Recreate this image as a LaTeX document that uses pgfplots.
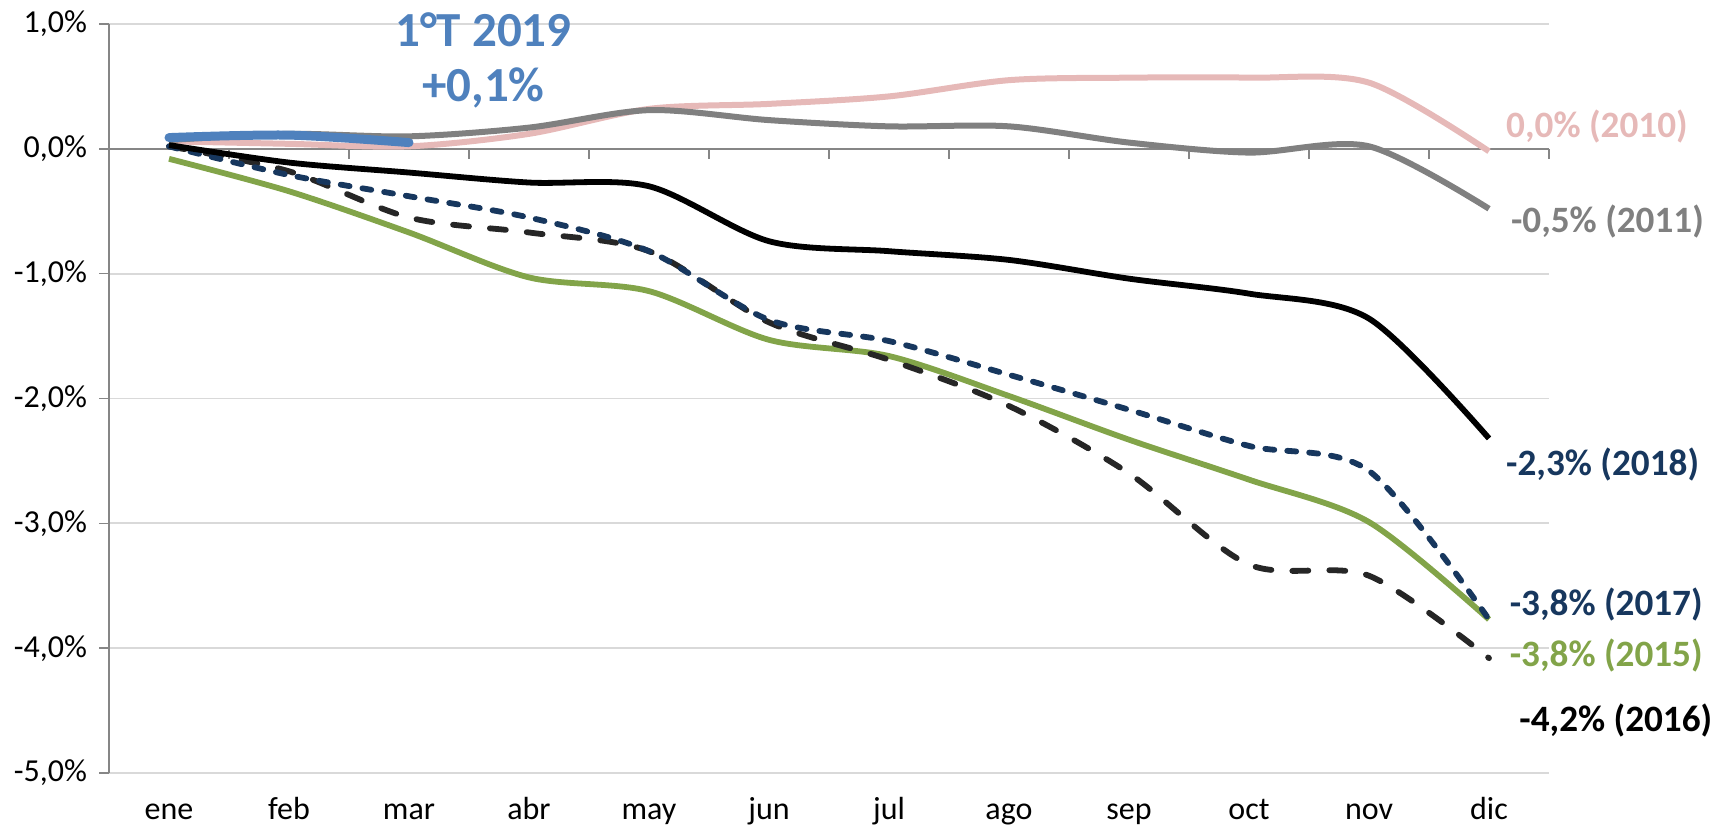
\documentclass[border=0pt]{standalone}
\usepackage{pgfplots}
\pgfplotsset{compat=1.18}
\usepackage{fontspec}
\setmainfont{Carlito}

\definecolor{c2010}{HTML}{E6B9B8}
\definecolor{c2011}{HTML}{808080}
\definecolor{c2019}{HTML}{4F81BD}
\definecolor{cnavy}{HTML}{17375E}
\definecolor{cgreen}{HTML}{82A449}
\definecolor{c2016}{HTML}{262626}
\definecolor{cgrid}{HTML}{D9D9D9}
\definecolor{caxis}{HTML}{868686}

\begin{document}
\begin{tikzpicture}
\begin{axis}[
    scale only axis,
    width=720pt, height=374.5pt,
    xmin=-0.5, xmax=11.5,
    ymin=-5, ymax=1,
    axis y line*=left, axis x line*=bottom,
    x axis line style={draw=none},
    y axis line style={caxis, line width=0.75pt},
    xtick={0,...,11},
    xticklabels={ene,feb,mar,abr,may,jun,jul,ago,sep,oct,nov,dic},
    major x tick style={draw=none},
    ytick={-5,-4,-3,-2,-1,0,1},
    yticklabels={{-5,0\%},{-4,0\%},{-3,0\%},{-2,0\%},{-1,0\%},{0,0\%},{1,0\%}},
    ytick style={caxis, line width=0.75pt},
    tick align=outside, major tick length=5pt,
    ymajorgrids, major grid style={cgrid, line width=0.9pt},
    tick label style={font=\fontsize{16}{19}\selectfont, black},
    yticklabel style={xshift=-2.5pt},
    xticklabel style={yshift=-7pt, text height=1.6ex, text depth=0.3ex},
    clip=false,
]
% eje horizontal en 0 con marcas entre meses
\draw[caxis, line width=0.75pt] (axis cs:-0.5,0) -- (axis cs:11.5,0);
\pgfplotsinvokeforeach{-0.5,0.5,...,11.5}{
    \draw[caxis, line width=0.75pt] (axis cs:#1,0) -- ([yshift=-5pt]axis cs:#1,0);
}

% 2010
\addplot[c2010, line width=3pt, smooth, tension=0.5] coordinates {
    (0,0.06)(1,0.04)(2,0.02)(3,0.12)(4,0.32)(5,0.36)(6,0.42)(7,0.55)(8,0.57)(9,0.57)(10,0.53)(11,-0.02)};
% 2011
\addplot[c2011, line width=3pt, smooth, tension=0.5] coordinates {
    (0,0.07)(1,0.12)(2,0.10)(3,0.17)(4,0.31)(5,0.23)(6,0.18)(7,0.18)(8,0.05)(9,-0.03)(10,0.02)(11,-0.48)};
% 2015
\addplot[cgreen, line width=2.9pt, smooth, tension=0.5] coordinates {
    (0,-0.08)(1,-0.34)(2,-0.67)(3,-1.03)(4,-1.14)(5,-1.53)(6,-1.66)(7,-1.98)(8,-2.33)(9,-2.65)(10,-2.99)(11,-3.77)};
% 2016
\addplot[c2016, line width=2.9pt, smooth, tension=0.5, line cap=round,
    dash pattern=on 8pt off 10.5pt] coordinates {
    (0,0.02)(1,-0.18)(2,-0.55)(3,-0.67)(4,-0.82)(5,-1.39)(6,-1.69)(7,-2.06)(8,-2.6)(9,-3.33)(10,-3.42)(11,-4.08)};
% 2017
\addplot[cnavy, line width=2.9pt, smooth, tension=0.5, line cap=round,
    dash pattern=on 4.5pt off 6.5pt] coordinates {
    (0,0.02)(1,-0.21)(2,-0.38)(3,-0.55)(4,-0.82)(5,-1.37)(6,-1.54)(7,-1.81)(8,-2.09)(9,-2.38)(10,-2.58)(11,-3.77)};
% 2018
\addplot[black, line width=2.9pt, smooth, tension=0.5] coordinates {
    (0,0.03)(1,-0.11)(2,-0.19)(3,-0.27)(4,-0.30)(5,-0.74)(6,-0.82)(7,-0.89)(8,-1.04)(9,-1.16)(10,-1.36)(11,-2.32)};
% 2019 (1er trimestre)
\addplot[c2019, line width=4.5pt, smooth, tension=0.5, line cap=round] coordinates {
    (0,0.09)(1,0.11)(2,0.05)};

% etiquetas
\node[align=center, inner sep=0, text=c2019, font=\bfseries\fontsize{24.5}{27.5}\selectfont]
    at (axis cs:2.62,0.71) {1°T 2019\\+0,1\%};
\node[anchor=west, inner sep=0, text=c2010, font=\bfseries\fontsize{18.6}{21}\selectfont]
    at (axis cs:11.14,0.18) {0,0\% (2010)};
\node[anchor=west, inner sep=0, text=c2011, font=\bfseries\fontsize{18.6}{21}\selectfont]
    at (axis cs:11.18,-0.58) {-0,5\% (2011)};
\node[anchor=west, inner sep=0, text=cnavy, font=\bfseries\fontsize{18.6}{21}\selectfont]
    at (axis cs:11.14,-2.53) {-2,3\% (2018)};
\node[anchor=west, inner sep=0, text=cnavy, font=\bfseries\fontsize{18.6}{21}\selectfont]
    at (axis cs:11.17,-3.65) {-3,8\% (2017)};
\node[anchor=west, inner sep=0, text=cgreen, font=\bfseries\fontsize{18.6}{21}\selectfont]
    at (axis cs:11.17,-4.06) {-3,8\% (2015)};
\node[anchor=west, inner sep=0, text=black, font=\bfseries\fontsize{18.6}{21}\selectfont]
    at (axis cs:11.25,-4.58) {-4,2\% (2016)};
\end{axis}
\path ([xshift=-54.5pt,yshift=-28pt]current axis.south west)
    rectangle ([xshift=83.5pt,yshift=12pt]current axis.north east);
\end{tikzpicture}
\end{document}
